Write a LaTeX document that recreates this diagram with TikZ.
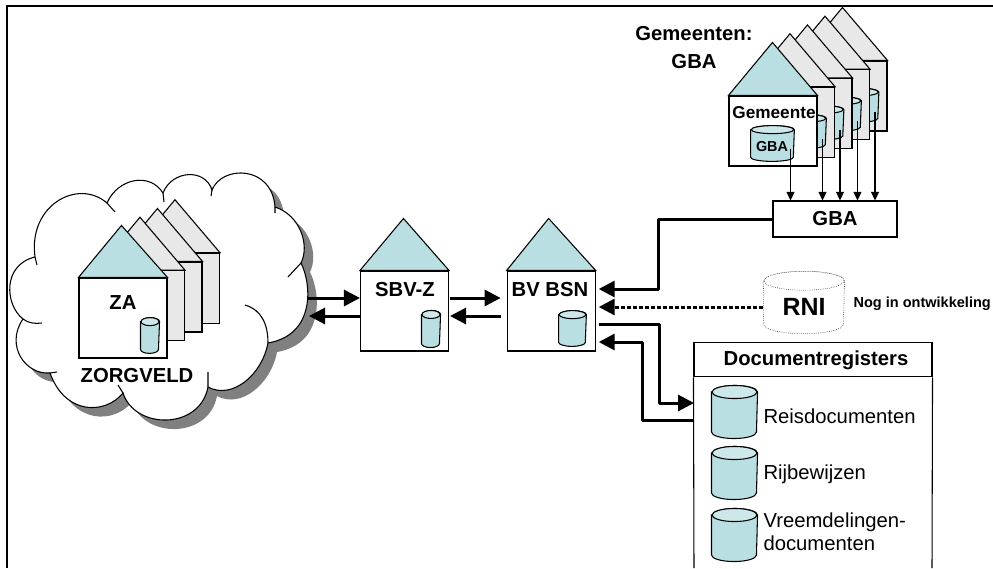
\documentclass[tikz,border=0pt]{standalone}
\usepackage{fontspec}
\setmainfont{Liberation Sans}
\usetikzlibrary{calc,arrows.meta,positioning}
\definecolor{roofblue}{RGB}{185,223,226}
\definecolor{capblue}{RGB}{205,232,235}
\definecolor{backgrey}{RGB}{232,232,232}
\definecolor{shadowgrey}{RGB}{128,128,128}
% outline of the cloud, used for its shadow and for the cloud itself
\newcommand{\cloudoutline}{
  (35,257) .. controls (28,205) and (78,178) .. (107,203)
  .. controls (118,178) and (150,172) .. (163,193)
  .. controls (172,170) and (205,168) .. (212,190)
  .. controls (222,165) and (272,165) .. (275,207)
  .. controls (300,215) and (310,245) .. (301,263)
  .. controls (312,285) and (315,335) .. (268,343)
  .. controls (262,375) and (232,400) .. (208,387)
  .. controls (200,430) and (135,430) .. (123,393)
  .. controls (105,415) and (65,415) .. (50,373)
  .. controls (25,375) and (5,345) .. (23,319)
  .. controls (5,305) and (2,265) .. (35,257) -- cycle
}
% database cylinder: [options] name, centre, width, height, end radius (pt)
\newcommand{\database}[6][]{
  \node [inner sep=0pt, minimum width=#4pt, minimum height=#5pt] (#2) at #3 {};
  \pgfmathsetmacro{\dbrx}{#4/2}
  \filldraw[fill=roofblue, #1] ($(#2.north west)+(0pt,-#6pt)$) -- ($(#2.south west)+(0pt,#6pt)$) arc (180:360:\dbrx pt and #6pt) -- ($(#2.north east)+(0pt,-#6pt)$) arc (0:180:\dbrx pt and #6pt) -- cycle;
  \filldraw[fill=capblue, #1] ($(#2.north)+(0pt,-#6pt)$) ellipse (\dbrx pt and #6pt);
}
\begin{document}
\begin{tikzpicture}[x=0.75pt, y=-0.75pt, >={Triangle[length=12pt, width=12pt]}, thick]
% Define styles for houses, texts and connectors
\tikzstyle{housebody} = [draw, fill=white, rectangle, minimum width=66pt, minimum height=60pt, inner sep=0pt]
\tikzstyle{backbody} = [housebody, fill=backgrey, minimum height=52.5pt]
\tikzstyle{roof} = [draw, fill=roofblue]
\tikzstyle{backroof} = [draw, fill=backgrey]
\tikzstyle{boldtext} = [inner sep=0pt, font=\fontsize{15.2}{21}\selectfont\bfseries, align=center]
\tikzstyle{plaintext} = [inner sep=0pt, font=\fontsize{15.2}{17.3}\selectfont, align=left, anchor=west]
\tikzstyle{conn} = [line width=2.25pt, line join=round]
\tikzstyle{thinconn} = [thick, -{Triangle[length=6.5pt, width=6pt]}]

\useasboundingbox (0,0) rectangle (993,568);

% Frame
\draw[line width=1.5pt] (993,5.5) -- (7,5.5) -- (7,568);

% Cloud
\fill[shadowgrey, shift={(9,9)}] \cloudoutline;
\filldraw[fill=white] \cloudoutline;
\draw (35,257) -- (37,265) (107,203) -- (115,212) (163,193) -- (164,202) (212,190) -- (211,196);
\draw (275,207) -- (275,213) (301,263) -- (288,277) (208,387) -- (208,372);
\draw (123,393) -- (118,385) (50,373) -- (57,372) (23,319) .. controls (28,323) and (35,324) .. (42,323);
\draw (268,343) .. controls (268,325) and (262,310) .. (245,305);

% ZA houses
\foreach \k in {3,2,1} {
  \node [backbody] (zaback\k) at ({123+17.5*\k},{314.5-8.75*\k}) {};
  \filldraw[backroof] (zaback\k.north west) -- ++(44,-53) -- (zaback\k.north east) -- cycle;
}
\node [housebody] (za) at (123,318) {};
\filldraw[roof] (za.north west) -- ++(43,-52) -- (za.north east) -- cycle;
\node [boldtext] (zatext) at (123,303) {ZA};
\database{zacyl}{(150,335.5)}{13.5}{26}{3}
\node [boldtext] (zorgveld) at (137,376) {ZORGVELD};

% Middle houses
\node [housebody] (sbvz) at (404.5,311) {};
\node [housebody, right of=sbvz, node distance=110pt] (bvbsn) {};
\filldraw[roof] (sbvz.north west) -- ++(43.5,-52) -- (sbvz.north east) -- cycle;
\filldraw[roof] (bvbsn.north west) -- ++(42,-52) -- (bvbsn.north east) -- cycle;
\node [boldtext] (sbvztext) at (405,290) {SBV-Z};
\node [boldtext] (bvbsntext) at (550,290) {BV BSN};
\database{sbvzcyl}{(431,329)}{13.5}{27}{3}
\database{bvbsncyl}{(572.5,328.5)}{20}{26}{3}

% Gemeente houses
\node [boldtext] (gemeenten) at (694,48) {Gemeenten:\\GBA};
\foreach \k in {4,3,2,1} {
  \node [backbody] (gem\k) at ({773+17.5*\k},{131-8.75*\k}) {};
  \filldraw[backroof] (gem\k.north west) -- ++(44,-53) -- (gem\k.north east) -- cycle;
  \database{gemcyl\k}{({787+17.5*\k},{140.25-8.75*\k})}{32}{25}{3}
}
\node [housebody, minimum height=52.5pt] (gemfront) at (773,131) {};
\filldraw[roof] (gemfront.north west) -- ++(44,-53) -- (gemfront.north east) -- cycle;
\node [boldtext, font=\fontsize{12.9}{15}\selectfont\bfseries] (gemtext) at (774,113) {Gemeente};
\database{gemcyl}{(772.5,143.5)}{32}{26}{3}
\node [inner sep=0pt, font=\fontsize{10.8}{13}\selectfont\bfseries] (gemcyltext) at (772,147) {GBA};
\node [draw, fill=white, rectangle, minimum width=93pt, minimum height=27pt, boldtext] (gbabox) at (835,219) {GBA};
\draw[thinconn] ($(gemcyl.center)+(18,5)$) -- ($(gemcyl.center |- gbabox.north)+(18,0)$);
\foreach \k in {1,2,3,4} {
  \draw[thinconn] ($(gemcyl\k.center)+(18,7)$) -- ($(gemcyl\k.center |- gbabox.north)+(18,0)$);
}

% RNI
\database[fill=white, thin, densely dotted]{rni}{(804,302.5)}{60}{46}{7.1}
\node [boldtext, font=\fontsize{18.7}{22}\selectfont\bfseries] (rnitext) at (804,307) {RNI};
\node [boldtext, font=\fontsize{10.9}{13}\selectfont\bfseries, anchor=west] (rninote) at (853,304) {Nog in ontwikkeling};

% Documentregisters
\node [draw, fill=white, rectangle, minimum width=178.5pt, minimum height=26pt] (docbox) at (813,359.5) {};
\node [boldtext] (doctitle) at (816,360) {Documentregisters};
\draw (docbox.south west) -- (694,568) (docbox.south east) -- (932,568);
\database{reiscyl}{(734.5,412)}{33.75}{39}{4.9}
\database{rijcyl}{(734.5,473)}{33.75}{39}{4.9}
\database{vreemcyl}{(734.5,535)}{33.75}{39}{4.9}
\node [plaintext] (reistext) at (763,416) {Reisdocumenten};
\node [plaintext] (rijtext) at (763,474) {Rijbewijzen};
\node [plaintext] (vreemtext) at (763,531.5) {Vreemdelingen-\\documenten};

% Draw edges
\coordinate (cloudout) at (307,298);
\coordinate (cloudin) at (309,316);
\coordinate (docin) at (694,403);
\coordinate (docout) at (694,420);
\coordinate (bvgba) at ($(bvbsn.east)+(3,-22)$);
\coordinate (bvrni) at ($(bvbsn.east)+(3,-4)$);
\coordinate (bvdocout) at ($(bvbsn.east)+(3,13)$);
\coordinate (bvdocin) at ($(bvbsn.east)+(3,31)$);
\draw[conn,->] (cloudout) -- ($(sbvz.west)+(0,-13)$);
\draw[conn,->] ($(sbvz.west)+(0,5)$) -- (cloudin);
\draw[conn,->] ($(sbvz.east)+(1,-13)$) -- ($(bvbsn.west)+(-6,-13)$);
\draw[conn,->] ($(bvbsn.west)+(-6,5)$) -- ($(sbvz.east)+(1,5)$);
\draw[conn,->] (gbabox.west) -- ++(-114,0) |- (bvgba);
\draw[conn,dash pattern=on 3pt off 1.5pt,->] (rni.west |- bvrni) -- (bvrni);
\draw[conn,->] (bvdocout) -- ++(61,0) |- (docin);
\draw[conn,->] (docout) -- ++(-52,0) |- (bvdocin);
\end{tikzpicture}
\end{document}
